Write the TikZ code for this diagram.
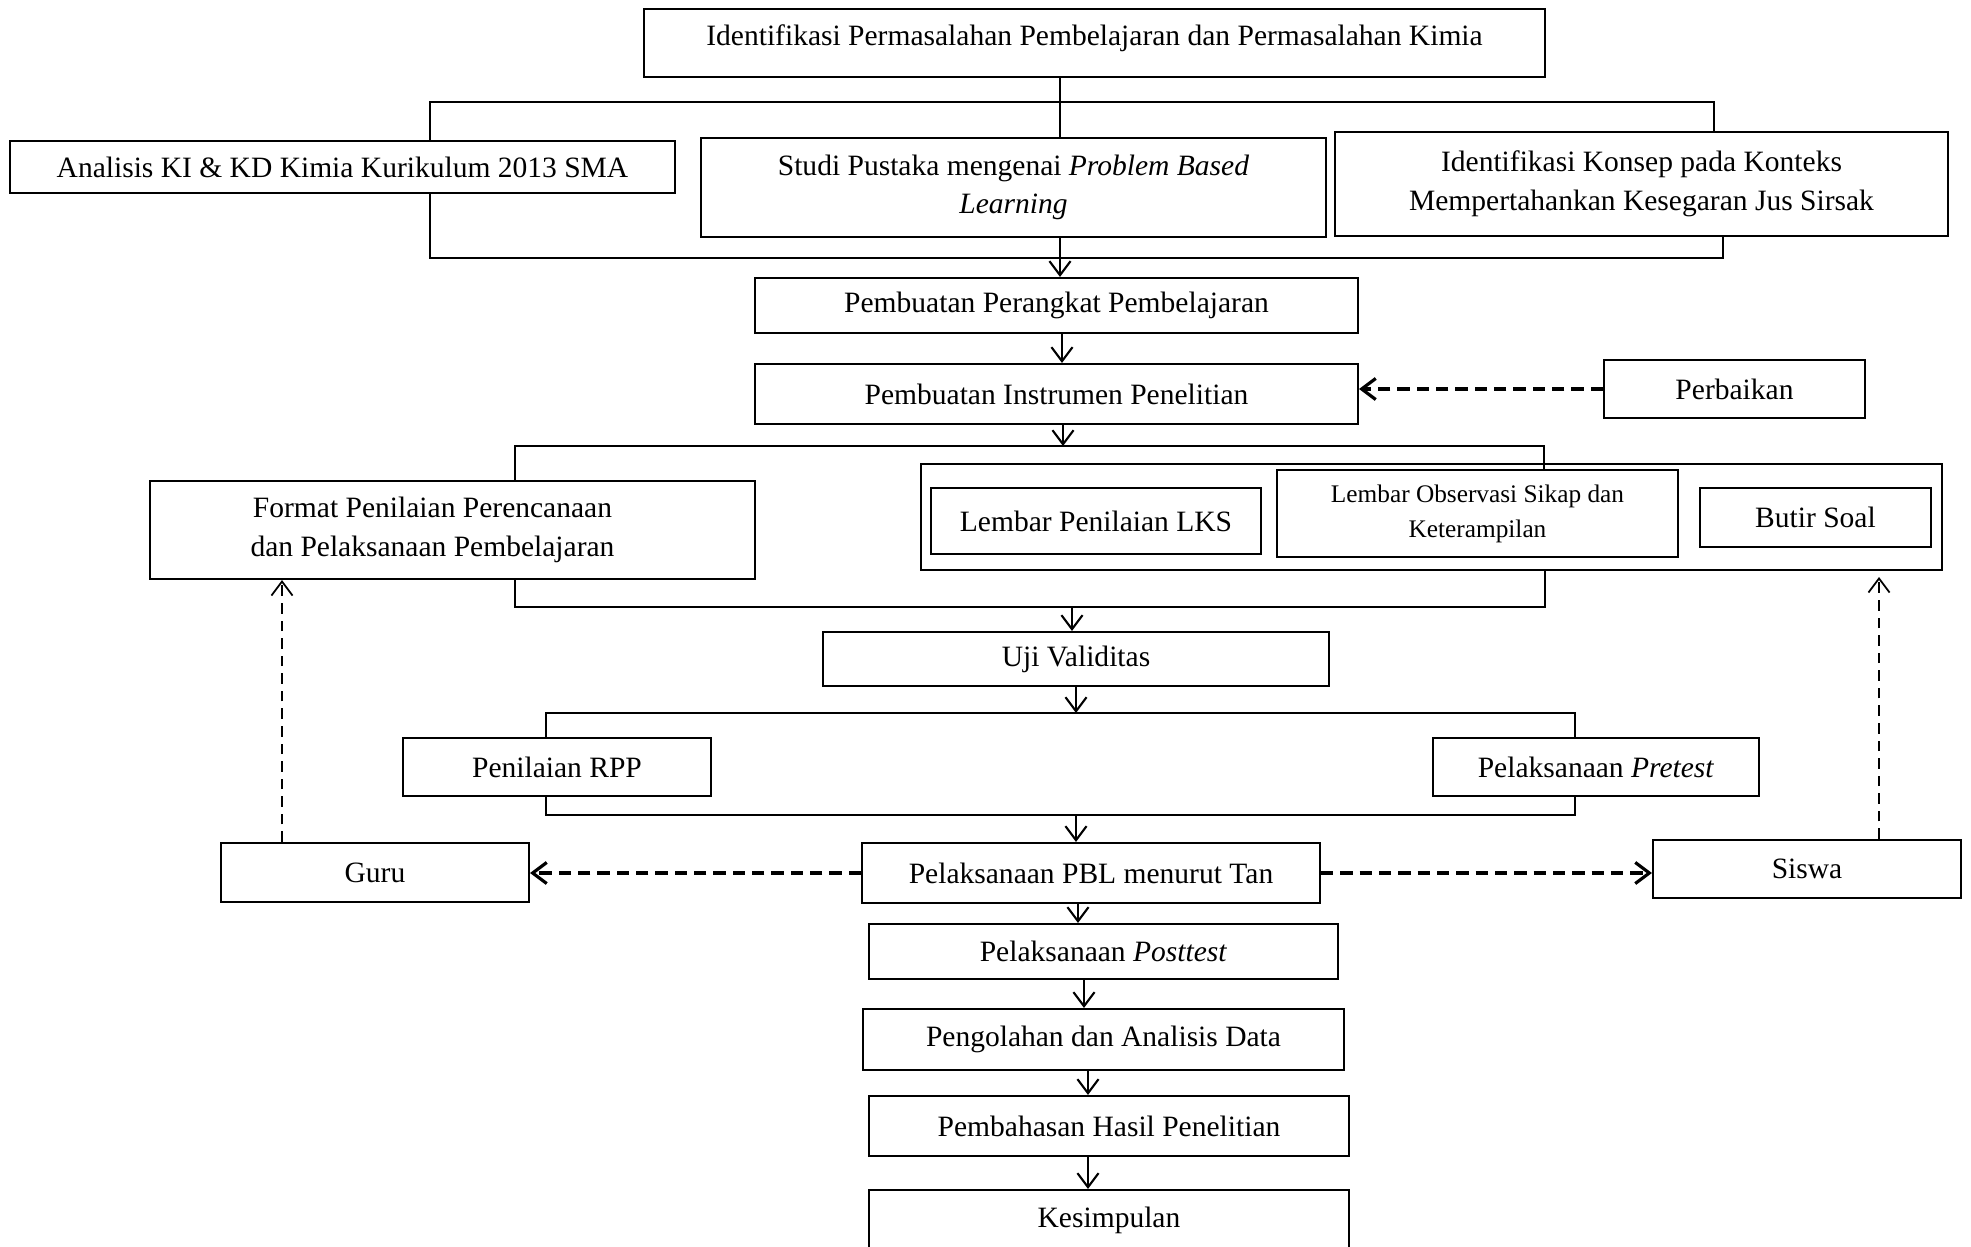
\documentclass[tikz,border=0pt]{standalone}
\usepackage{fontspec}
\setmainfont{Liberation Serif}
\usetikzlibrary{arrows.meta}

\begin{document}
\begin{tikzpicture}[
	box/.style={draw, line width=0.6pt, inner sep=0pt, align=center, font=\fontsize{8.4}{11}\selectfont},
	arr/.style={-{Straight Barb[length=4pt,width=6pt]}, line width=0.6pt},
	dasharr/.style={-{Straight Barb[length=4pt,width=6pt]}, line width=0.9pt, dash pattern=on 3.5pt off 2pt},
	dashup/.style={-{Straight Barb[length=4pt,width=6pt]}, line width=0.5pt, dash pattern=on 3pt off 2pt}
]
	\useasboundingbox (0,0) rectangle (19.71,-12.47);
	%    \draw[step=1cm,gray,very thin] (0,0) grid (19.71,-12.47);

	\node[box, minimum width=9.01cm, minimum height=0.68cm] (masalah) at (10.945,-0.43) {\raisebox{0.16cm}{Identifikasi Permasalahan Pembelajaran dan Permasalahan Kimia}};

	\node[box, minimum width=6.65cm, minimum height=0.52cm] (analisis) at (3.425,-1.67) {Analisis KI \& KD Kimia Kurikulum 2013 SMA};
	\node[box, minimum width=6.25cm, minimum height=0.99cm] (studi) at (10.135,-1.875) {Studi Pustaka mengenai \textit{Problem Based}\\\textit{Learning}};
	\node[box, minimum width=6.13cm, minimum height=1.04cm] (konsep) at (16.415,-1.84) {Identifikasi Konsep pada Konteks\\Mempertahankan Kesegaran Jus Sirsak};

	\node[box, minimum width=6.03cm, minimum height=0.55cm] (perangkat) at (10.565,-3.055) {Pembuatan Perangkat Pembelajaran};
	\node[box, minimum width=6.03cm, minimum height=0.60cm] (instrumen) at (10.565,-3.94) {Pembuatan Instrumen Penelitian};
	\node[box, minimum width=2.61cm, minimum height=0.58cm] (perbaikan) at (17.345,-3.89) {Perbaikan};

	\node[box, minimum width=6.05cm, minimum height=0.98cm] (format) at (4.525,-5.30) {\hspace*{-0.4cm}Format Penilaian Perencanaan\\\hspace*{-0.4cm}dan Pelaksanaan Pembelajaran};
	\node[box, minimum width=10.21cm, minimum height=1.06cm] (wadah) at (14.315,-5.17) {};
	\node[box, minimum width=3.30cm, minimum height=0.66cm] (lks) at (10.96,-5.21) {Lembar Penilaian LKS};
	\node[box, minimum width=4.01cm, minimum height=0.87cm, font=\fontsize{7.2}{10}\selectfont] (observasi) at (14.775,-5.135) {Lembar Observasi Sikap dan\\Keterampilan};
	\node[box, minimum width=2.31cm, minimum height=0.59cm] (butir) at (18.155,-5.175) {Butir Soal};

	\node[box, minimum width=5.06cm, minimum height=0.54cm] (uji) at (10.76,-6.59) {Uji Validitas};
	\node[box, minimum width=3.08cm, minimum height=0.58cm] (rpp) at (5.57,-7.67) {Penilaian RPP};
	\node[box, minimum width=3.26cm, minimum height=0.58cm] (pretest) at (15.96,-7.67) {Pelaksanaan \textit{Pretest}};

	\node[box, minimum width=4.58cm, minimum height=0.60cm] (pbl) at (10.91,-8.73) {Pelaksanaan PBL menurut Tan};
	\node[box, minimum width=3.08cm, minimum height=0.59cm] (guru) at (3.75,-8.725) {Guru};
	\node[box, minimum width=3.08cm, minimum height=0.58cm] (siswa) at (18.07,-8.69) {Siswa};

	\node[box, minimum width=4.69cm, minimum height=0.55cm] (posttest) at (11.035,-9.515) {Pelaksanaan \textit{Posttest}};
	\node[box, minimum width=4.81cm, minimum height=0.61cm] (olah) at (11.035,-10.395) {Pengolahan dan Analisis Data};
	\node[box, minimum width=4.80cm, minimum height=0.60cm] (bahas) at (11.09,-11.26) {Pembahasan Hasil Penelitian};
	\node[box, minimum width=4.80cm, minimum height=0.60cm] (kesimpulan) at (11.09,-12.20) {Kesimpulan};

	% cabang dan gabungan
	\coordinate (c1) at (10.60,-1.02);
	\coordinate (b1l) at (4.30,-1.02);
	\coordinate (b1r) at (17.14,-1.02);
	\coordinate (b2l) at (4.30,-2.58);
	\coordinate (b2r) at (17.23,-2.58);
	\coordinate (c2) at (10.62,0);
	\coordinate (b3l) at (5.15,-4.46);
	\coordinate (b3r) at (15.44,-4.46);
	\coordinate (c3) at (10.63,-4.46);
	\coordinate (b4l) at (5.15,-6.07);
	\coordinate (b4r) at (15.45,-6.07);
	\coordinate (c4) at (10.72,-6.07);
	\coordinate (b5l) at (5.46,-7.13);
	\coordinate (b5r) at (15.75,-7.13);
	\coordinate (c5) at (10.76,-7.13);
	\coordinate (b6l) at (5.46,-8.15);
	\coordinate (b6r) at (15.75,-8.15);
	\coordinate (c6) at (10.76,-8.15);
	\coordinate (g1) at (2.82,0);
	\coordinate (s1) at (18.79,-5.77);
	\coordinate (d1) at (10.78,0);
	\coordinate (d2) at (10.84,0);
	\coordinate (d3) at (10.88,0);

	\draw[line width=0.6pt] (masalah.south -| c1) -- (studi.north -| c1);
	\draw[line width=0.6pt] (analisis.north -| b1l) |- (b1r) -- (konsep.north -| b1r);
	\draw[line width=0.6pt] (analisis.south -| b2l) |- (b2r) -- (konsep.south -| b2r);
	\draw[arr] (studi.south -| c1) -- (perangkat.north -| c1);
	\draw[arr] (perangkat.south -| c2) -- (instrumen.north -| c2);
	\draw[dasharr] (perbaikan.west) -- (perbaikan.west -| instrumen.east);

	\draw[arr] (instrumen.south -| c3) -- (c3);
	\draw[line width=0.6pt] (format.north -| b3l) |- (b3r) -- (observasi.north -| b3r);
	\draw[line width=0.6pt] (format.south -| b4l) |- (b4r) -- (wadah.south -| b4r);
	\draw[arr] (c4) -- (uji.north -| c4);

	\draw[arr] (uji.south -| c5) -- (c5);
	\draw[line width=0.6pt] (rpp.north -| b5l) |- (b5r) -- (pretest.north -| b5r);
	\draw[line width=0.6pt] (rpp.south -| b6l) |- (b6r) -- (pretest.south -| b6r);
	\draw[arr] (c6) -- (pbl.north -| c6);

	\draw[dasharr] (pbl.west) -- (pbl.west -| guru.east);
	\draw[dasharr] (pbl.east) -- (pbl.east -| siswa.west);
	\draw[dashup] (guru.north -| g1) -- (format.south -| g1);
	\draw[dashup] (siswa.north -| s1) -- (s1);

	\draw[arr] (pbl.south -| d1) -- (posttest.north -| d1);
	\draw[arr] (posttest.south -| d2) -- (olah.north -| d2);
	\draw[arr] (olah.south -| d3) -- (bahas.north -| d3);
	\draw[arr] (bahas.south -| d3) -- (kesimpulan.north -| d3);
\end{tikzpicture}
\end{document}
